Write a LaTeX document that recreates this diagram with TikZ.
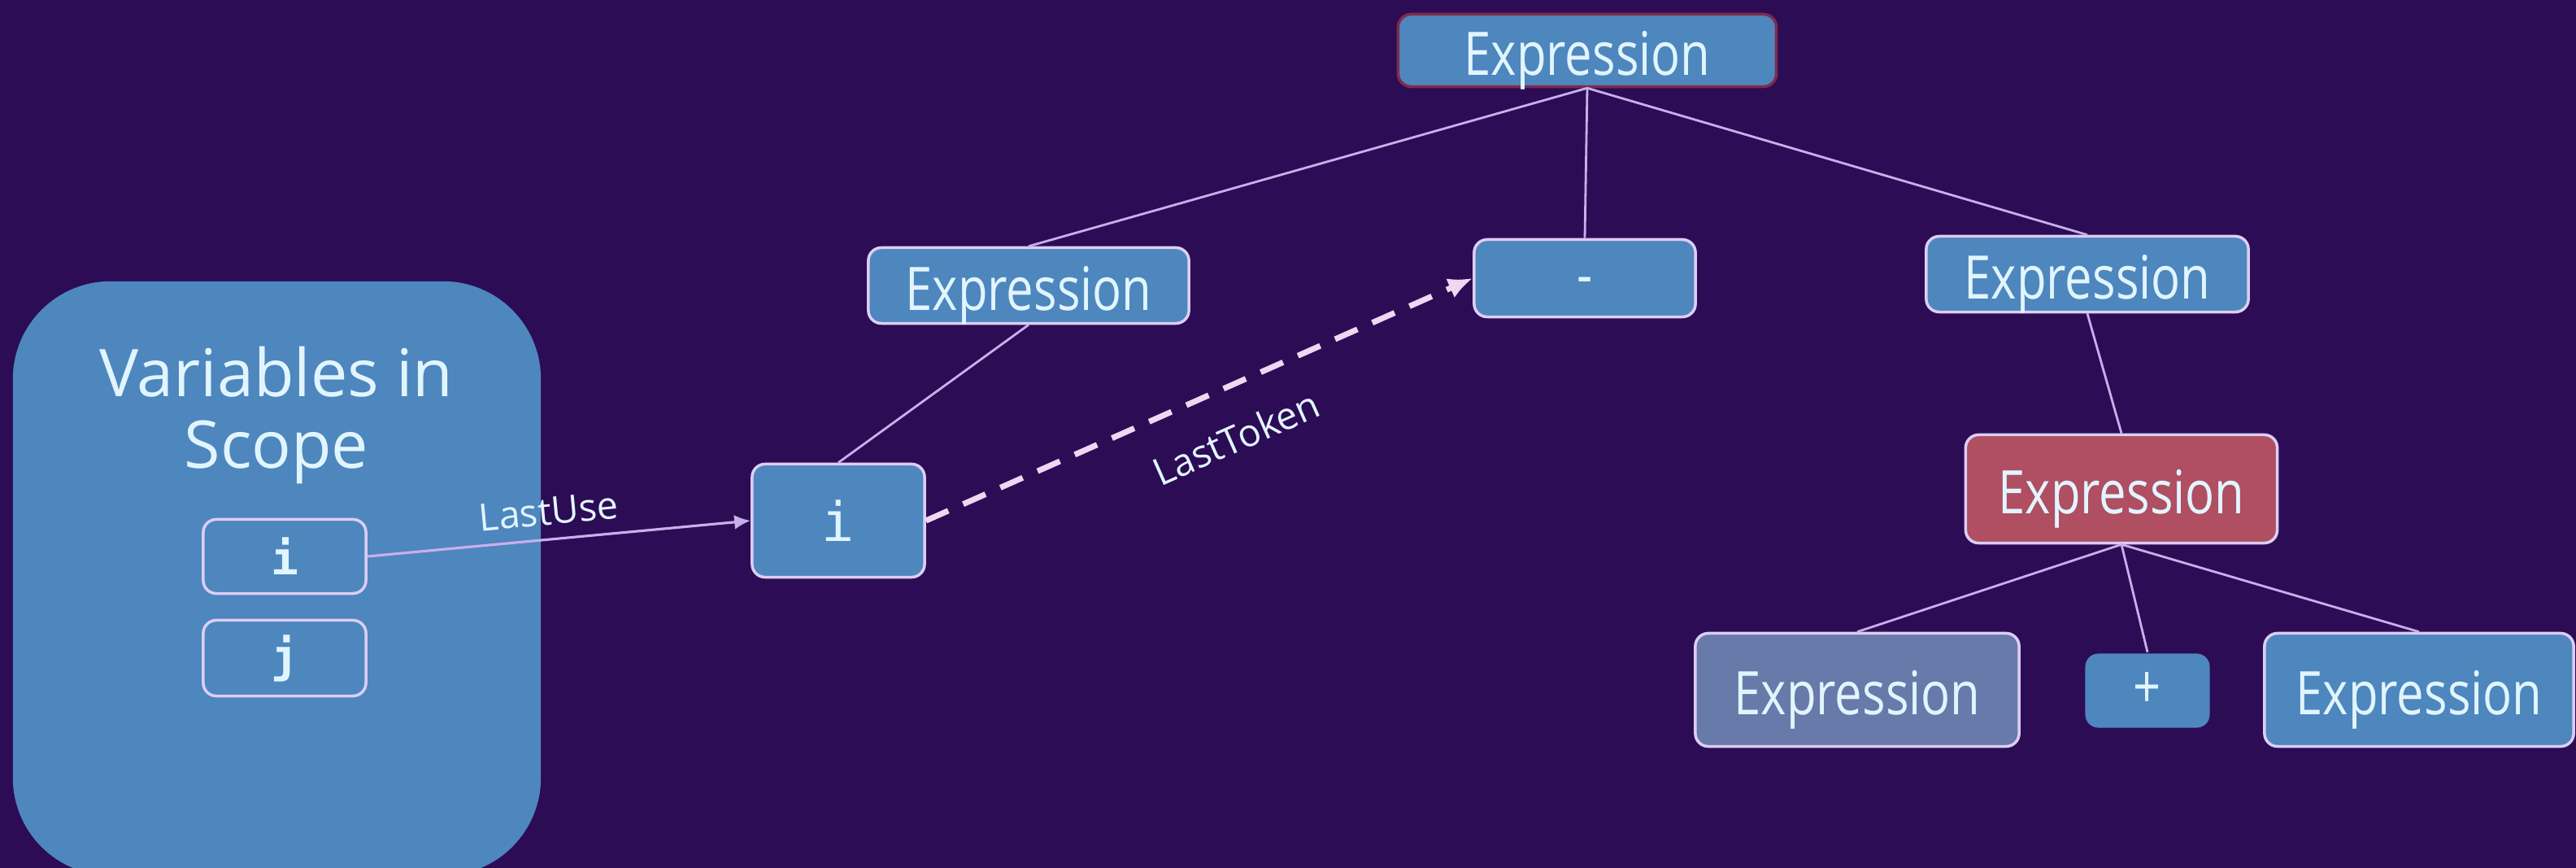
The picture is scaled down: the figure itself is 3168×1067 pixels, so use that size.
\documentclass[tikz,border=0pt]{standalone}
\usepackage{fontspec}
\setmainfont{Open Sans}
\newfontfamily\treefont{Open Sans}[FakeStretch=0.81]
\newfontfamily\codefont{DejaVu Sans Mono}
\usetikzlibrary{arrows.meta}

\definecolor{bgpurple}{HTML}{2C0C54}
\definecolor{boxblue}{HTML}{4E86BE}
\definecolor{boxred}{HTML}{B04E62}
\definecolor{boxgrey}{HTML}{687AAA}
\definecolor{rimlight}{HTML}{DCCDF5}
\definecolor{rimdark}{HTML}{7D2B4D}
\definecolor{labeltext}{HTML}{E1F5FF}
\definecolor{treeline}{HTML}{C8AFEB}
\definecolor{linkline}{HTML}{F2D6F2}

\tikzset{
  nodebox/.style={draw=rimlight, line width=1pt, fill=boxblue, rounded corners=0.16cm,
    text=labeltext, inner sep=0pt, font=\treefont\fontsize{21}{25}\selectfont},
  exprbox/.style={nodebox, text height=17.2pt, text depth=0pt},
  codebox/.style={nodebox, fill=none, font=\codefont\bfseries\fontsize{16}{19}\selectfont},
  treeedge/.style={draw=treeline, line width=0.8pt},
  uselink/.style={draw=treeline, line width=0.9pt, -{Latex[length=0.2cm,width=0.18cm]}},
  tokenlink/.style={draw=linkline, line width=2pt, dash pattern=on 0.3cm off 0.2cm,
    -{Latex[length=0.3cm,width=0.26cm]}},
  edgelabel/.style={text=labeltext, font=\fontsize{13.3}{16}\selectfont, sloped},
  paneltitle/.style={text=labeltext, font=\fontsize{23}{27}\selectfont, anchor=base}
}

\begin{document}
\begin{tikzpicture}[x=0.01cm, y=-0.01cm]
  % canvas
  \fill[bgpurple] (0,0) rectangle (3168,1067);
  \useasboundingbox (0,0) rectangle (3168,1067);

  % scope panel with its variables
  \node[fill=boxblue, rounded corners=1.2cm, minimum width=6.49cm, minimum height=7.3cm,
        inner sep=0pt] (scope) at (340.5,711) {};
  \node[paneltitle] (scopetitle) at (340,488) {Variables in};
  \node[paneltitle] (scopetitletwo) at (340,576) {Scope};
  \node[codebox, minimum width=2.0cm, minimum height=0.91cm] (vi) at (350,684) {i};
  \node[codebox, minimum width=2.0cm, minimum height=0.93cm] (vj) at (350,809) {j};

  % syntax tree
  \node[exprbox, draw=rimdark, minimum width=4.65cm, minimum height=0.89cm] (root) at (1952,62) {Expression};
  \node[exprbox, minimum width=3.94cm, minimum height=0.93cm] (lexpr) at (1265,351) {Expression};
  \node[nodebox, text height=12pt, text depth=0pt, minimum width=2.72cm, minimum height=0.95cm] (minus) at (1949,342) {-};
  \node[exprbox, minimum width=3.96cm, minimum height=0.93cm] (rexpr) at (2567,337) {Expression};
  \node[exprbox, fill=boxred, minimum width=3.83cm, minimum height=1.33cm] (sum) at (2609,601) {Expression};
  \node[exprbox, fill=boxgrey, minimum width=3.98cm, minimum height=1.39cm] (sumleft) at (2284,848) {Expression};
  \node[nodebox, draw=none, minimum width=1.53cm, minimum height=0.91cm] (plus) at (2641,849) {+};
  \node[exprbox, minimum width=3.80cm, minimum height=1.39cm] (sumright) at (2975,848) {Expression};
  \node[nodebox, font=\codefont\fontsize{19}{22}\selectfont, minimum width=2.12cm, minimum height=1.39cm] (itok) at (1031,640) {i};

  \draw[treeedge] (root.south) -- (lexpr.north);
  \draw[treeedge] (root.south) -- (minus.north);
  \draw[treeedge] (root.south) -- (rexpr.north);
  \draw[treeedge] (lexpr.south) -- (itok.north);
  \draw[treeedge] (rexpr.south) -- (sum.north);
  \draw[treeedge] (sum.south) -- (sumleft.north);
  \draw[treeedge] (sum.south) -- (plus.north);
  \draw[treeedge] (sum.south) -- (sumright.north);

  % data-flow links
  \draw[uselink] (vi.east) -- node[edgelabel, above=0.04cm, pos=0.48] {LastUse} (itok.west);
  \draw[tokenlink] (itok.east) -- node[edgelabel, below=0.28cm, pos=0.53] {LastToken} (minus.west);
\end{tikzpicture}
\end{document}
